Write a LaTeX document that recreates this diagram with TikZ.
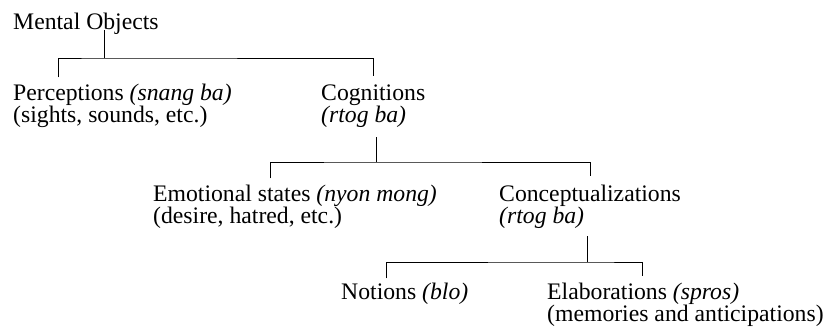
\documentclass[tikz,border=0pt]{standalone}
\usepackage{fontspec}
\setmainfont{Liberation Serif}
\usetikzlibrary{calc}

\begin{document}
\begin{tikzpicture}[x=1pt,y=-1pt,
                    concept/.style={anchor=base west,inner sep=0pt,align=left,
                                    font=\fontsize{23.7pt}{22pt}\selectfont},
                    branch/.style={line width=0.9pt}]
  \useasboundingbox (0,0) rectangle (832,328);

  \node[concept] (mental) at (13,30) {Mental Objects};

  \node[concept] (perc) at (13,123) {Perceptions \emph{(snang ba)}\\(sights, sounds, etc.)};
  \node[concept] (cogn) at (321,123) {Cognitions\\\emph{(rtog ba)}};

  \node[concept] (emot) at (153,224) {Emotional states \emph{(nyon mong)}\\(desire, hatred, etc.)};
  \node[concept] (conc) at (499,224) {Conceptualizations\\\emph{(rtog ba)}};

  \node[concept] (notn) at (341,300) {Notions \emph{(blo)}};
  \node[concept] (elab) at (547,322) {Elaborations \emph{(spros)}\\(memories and anticipations)};

  \coordinate (fork1) at (104,58);
  \coordinate (fork2) at (376,162);
  \coordinate (fork3) at (587,262);

  \draw[branch] (mental.base -| fork1) -- (fork1);
  \draw[branch] ([xshift=45pt,yshift=7pt]perc.north west) |- (fork1) -| ([yshift=9pt]cogn.north);

  \draw[branch] ($ (cogn.south -| fork2) + (0,9) $) -- (fork2);
  \draw[branch] ([xshift=117pt,yshift=7pt]emot.north west) |- (fork2) -| ([yshift=9pt]conc.north);

  \draw[branch] ($ (conc.south -| fork3) + (0,7) $) -- (fork3);
  \draw[branch] ([xshift=45pt,yshift=5pt]notn.north west) |- (fork3)
                -| ([xshift=95pt,yshift=7pt]elab.north west);
\end{tikzpicture}
\end{document}
